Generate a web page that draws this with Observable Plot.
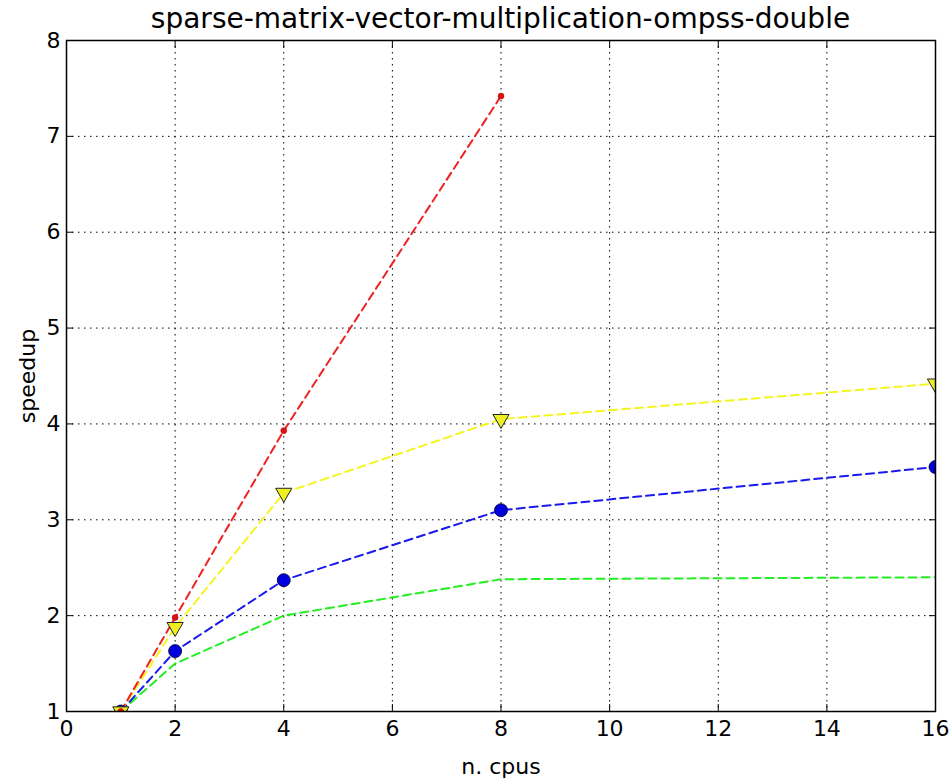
<!DOCTYPE html>
<html>
<head>
<meta charset="utf-8">
<script src="https://cdn.jsdelivr.net/npm/d3@7"></script>
<script src="https://cdn.jsdelivr.net/npm/@observablehq/plot@0.6"></script>
<style>
  body { margin: 0; background: #fff; font-family: "DejaVu Sans", sans-serif; }
  #wrap { width: 952px; height: 784px; position: relative; }
  #title { position: absolute; left: 66px; width: 869px; top: 3px; text-align: center; font-size: 28px; color: #000; line-height: 32px; z-index: 2; }
  #chart { position: absolute; left: 0; top: 0; }
</style>
</head>
<body>
<div id="wrap">
  <div id="title">sparse-matrix-vector-multiplication-ompss-double</div>
  <div id="chart"></div>
</div>
<script>
const cpus = [1, 2, 4, 8, 16];
const redSpeedup = [1.0, 1.98, 3.93, 7.42];
const yellowSpeedup = [1.0, 1.88, 3.28, 4.05, 4.42];
const blueSpeedup = [1.0, 1.63, 2.37, 3.10, 3.55];
const greenSpeedup = [1.0, 1.50, 2.00, 2.38, 2.40];
const xTicks = [0, 2, 4, 6, 8, 10, 12, 14, 16];
const yTicks = [1, 2, 3, 4, 5, 6, 7, 8];

const mk = (vals, s) => vals.map((v, i) => ({x: cpus[i], y: v, s}));
const red = mk(redSpeedup, "red");
const yellow = mk(yellowSpeedup, "yellow");
const blue = mk(blueSpeedup, "blue");
const green = mk(greenSpeedup, "green");

const dash = "8,5";
const chart = Plot.plot({
  width: 952,
  height: 784,
  marginLeft: 66,
  marginRight: 17,
  marginTop: 40,
  marginBottom: 73,
  style: {fontFamily: "DejaVu Sans, sans-serif", fontSize: "22px", color: "#000", background: "#fff"},
  x: {domain: [0, 16]},
  y: {domain: [1, 8]},
  marks: [
    Plot.gridX(xTicks.filter(d => d > 0 && d < 16), {stroke: "#000", strokeOpacity: 1, strokeDasharray: "1.5,4.5", strokeWidth: 1}),
    Plot.gridY(yTicks.filter(d => d > 1 && d < 8), {stroke: "#000", strokeOpacity: 1, strokeDasharray: "1.5,4.5", strokeWidth: 1}),
    Plot.line(green, {x: "x", y: "y", stroke: "#22ee22", strokeWidth: 2, strokeDasharray: dash, clip: true}),
    Plot.line(blue, {x: "x", y: "y", stroke: "#1a1aee", strokeWidth: 2, strokeDasharray: dash, clip: true}),
    Plot.line(yellow, {x: "x", y: "y", stroke: "#f5f522", strokeWidth: 2, strokeDasharray: dash, clip: true}),
    Plot.line(red, {x: "x", y: "y", stroke: "#ee2222", strokeWidth: 2, strokeDasharray: dash, clip: true}),
    Plot.dot(blue, {x: "x", y: "y", r: 6.5, fill: "#0000dd", stroke: "#000033", strokeWidth: 0.8, clip: true}),
    Plot.dot(yellow, {x: "x", y: "y", symbol: "triangle", rotate: 180, r: 6, fill: "#eeee22", stroke: "#222", strokeWidth: 1, clip: true}),
    Plot.dot(red, {x: "x", y: "y", r: 3, fill: "#dd1111", stroke: "#aa0000", strokeWidth: 0.5, clip: true}),
    Plot.frame({stroke: "#000", strokeWidth: 1.5}),
    Plot.axisX(xTicks, {anchor: "bottom", tickSize: -7, tickPadding: 16, tickFormat: d3.format("d"), label: "n. cpus", labelAnchor: "center", labelOffset: 62, labelArrow: "none", fontSize: 22}),
    Plot.axisX(xTicks, {anchor: "top", tickSize: -7, tickFormat: () => "", label: null}),
    Plot.axisY(yTicks, {anchor: "left", tickSize: -7, tickPadding: 13, tickFormat: d3.format("d"), label: "speedup", labelAnchor: "center", labelOffset: 47, labelArrow: "none", fontSize: 22}),
    Plot.axisY(yTicks, {anchor: "right", tickSize: -7, tickFormat: () => "", label: null})
  ]
});
document.getElementById("chart").appendChild(chart);
</script>
</body>
</html>
